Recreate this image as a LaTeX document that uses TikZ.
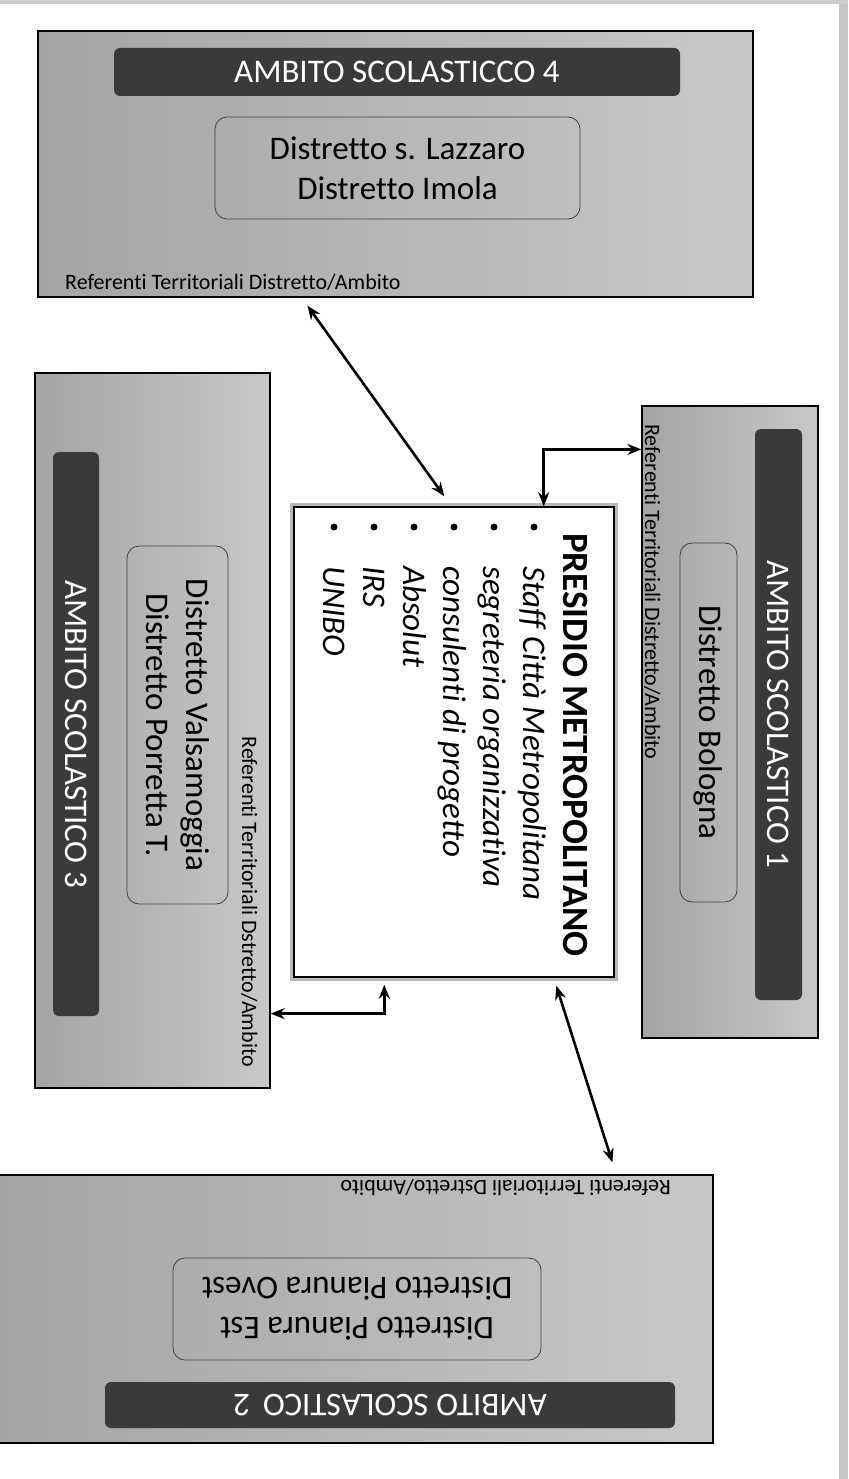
\documentclass[tikz,border=0pt]{standalone}
\usepackage{fontspec}
\setmainfont{Carlito}[Ligatures=NoCommon]
\usetikzlibrary{arrows.meta,calc}
\definecolor{barc}{HTML}{3A3A3A}
\definecolor{gL}{HTML}{A4A4A4}
\definecolor{gR}{HTML}{C8C8C8}
\tikzset{
  ambox/.style={draw=black, line width=1.2pt, left color=gL, right color=gR, inner sep=0pt, rectangle},
  barbox/.style={fill=barc, rounded corners=6pt, text=white, inner sep=0pt, font=\fontsize{33}{38}\selectfont},
  inbox/.style={draw=black!75, line width=0.8pt, rounded corners=12pt, inner sep=0pt, align=center, font=\fontsize{33}{40}\selectfont},
  reftext/.style={inner sep=0pt, font=\fontsize{22}{24}\selectfont},
  prestitle/.style={inner sep=0pt, rotate=-90, anchor=base west, font=\fontsize{37}{40}\bfseries\selectfont},
  presitem/.style={inner sep=0pt, rotate=-90, anchor=base west, font=\fontsize{33}{40}\itshape\selectfont},
  bul/.style={circle, fill=black, inner sep=0pt, minimum size=7pt},
  arr/.style={{Stealth[length=14pt,width=11pt]}-{Stealth[length=14pt,width=11pt]}, line width=2.6pt},
}
\begin{document}
\begin{tikzpicture}[x=1pt,y=-1pt]
\clip (0,0) rectangle (848,1479);
\fill[white] (0,0) rectangle (848,1479);
% scan edges
\fill[gray!45] (839,0) rectangle (848,1479);
\fill[gray!40] (0,0) rectangle (848,4);

% ---------- AMBITO 4 (top) ----------
\node[ambox, minimum width=715pt, minimum height=266pt] (b4) at (395.5,164) {};
\node[barbox, minimum width=566pt, minimum height=48pt] (bar4) at (397,72) {AMBITO SCOLASTICCO 4};
\node[inbox, minimum width=365pt, minimum height=102pt] (in4) at (397.5,168) {Distretto s. Lazzaro\\Distretto Imola};
\node[reftext, anchor=base west] (ref4) at (65,289) {Referenti Territoriali Distretto/Ambito};

% ---------- AMBITO 1 (right) ----------
\node[ambox, minimum width=176pt, minimum height=632pt] (b1) at (730,722) {};
\node[barbox, rotate=-90, minimum width=571pt, minimum height=47pt] (bar1) at (778.5,714.5) {AMBITO SCOLASTICO 1};
\node[inbox, rotate=-90, minimum width=359pt, minimum height=57pt] (in1) at (708.5,722.5) {Distretto Bologna};
\node[reftext, rotate=-90, anchor=base west] (ref1) at (645,424) {Referenti Territoriali Distretto/Ambito};

% ---------- AMBITO 3 (left) ----------
\node[ambox, minimum width=235pt, minimum height=715pt] (b3) at (152.5,730.5) {};
\node[barbox, rotate=-90, minimum width=564pt, minimum height=46pt] (bar3) at (76,734) {AMBITO SCOLASTICO 3};
\node[inbox, rotate=-90, minimum width=358pt, minimum height=101pt] (in3) at (177.5,725) {Distretto Valsamoggia\\Distretto Porretta T.};
\node[reftext, rotate=-90, anchor=base east] (ref3) at (242,1067) {Referenti Territoriali Dstretto/Ambito};

% ---------- AMBITO 2 (bottom, upside down) ----------
\node[ambox, minimum width=716pt, minimum height=268pt] (b2) at (355,1309) {};
\node[barbox, rotate=180, minimum width=570pt, minimum height=46pt] (bar2) at (390,1405) {AMBITO SCOLASTICO\, 2};
\node[inbox, rotate=180, minimum width=368pt, minimum height=102pt] (in2) at (357,1309) {Distretto Pianura Est\\Distretto Pianura Ovest};
\node[reftext, rotate=180, anchor=base west] (ref2) at (671,1180) {Referenti Territoriali Dstretto/Ambito};

% ---------- PRESIDIO METROPOLITANO (centre) ----------
\node[draw=gray!55, line width=8pt, minimum width=320pt, minimum height=470pt, inner sep=0pt] (presshadow) at (454,742) {};
\node[draw=black, fill=white, line width=1.4pt, minimum width=320pt, minimum height=470pt, inner sep=0pt] (pres) at (454,742) {};
\node[prestitle] (ptitle) at (563,533) {PRESIDIO METROPOLITANO};
\node[presitem] (it1) at (523,566) {Staff Città Metropolitana};
\node[presitem] (it2) at (483,566) {segreteria organizzativa};
\node[presitem] (it3) at (443,566) {consulenti di progetto};
\node[presitem] (it4) at (403,566) {Absolut};
\node[presitem] (it5) at (363,566) {IRS};
\node[presitem] (it6) at (323,566) {UNIBO};
\node[bul] (d1) at (534,527) {};
\node[bul] (d2) at (494,527) {};
\node[bul] (d3) at (454,527) {};
\node[bul] (d4) at (414,527) {};
\node[bul] (d5) at (374,527) {};
\node[bul] (d6) at (334,527) {};

% ---------- connectors ----------
\coordinate (a4) at ($(b4.south west)+(270,8)$);
\coordinate (ap) at ($(pres.north west)+(151,-10)$);
\draw[arr] (a4) -- (ap);

\coordinate (t1) at ($(pres.north east)+(-71,0)$);
\coordinate (t2) at ($(b1.north west)+(0,44)$);
\draw[arr] (t1) |- (t2);

\coordinate (e1) at ($(pres.south west)+(91,7)$);
\coordinate (e2) at ($(b3.south east)+(0,-75)$);
\draw[arr] (e1) |- (e2);

\coordinate (f1) at ($(pres.south west)+(263,8)$);
\coordinate (f2) at ($(b2.north west)+(616,-12)$);
\draw[arr] (f1) -- (f2);
\end{tikzpicture}
\end{document}
